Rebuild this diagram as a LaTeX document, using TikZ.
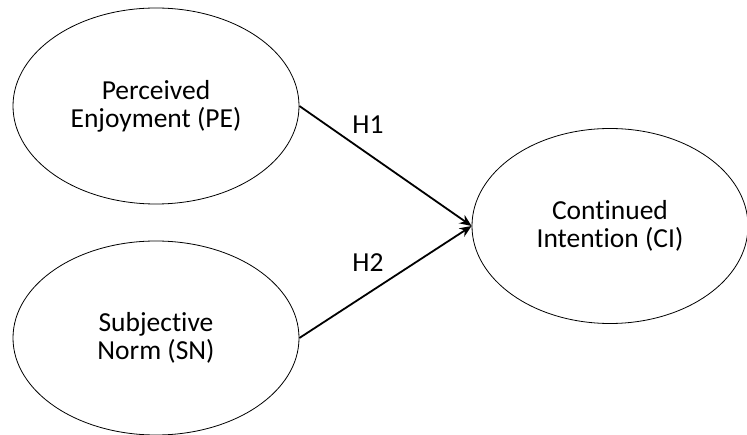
\documentclass[tikz,border=0pt]{standalone}
\usepackage{fontspec}
\setmainfont[Ligatures=NoCommon]{Carlito}
\usetikzlibrary{shapes.geometric,arrows.meta}

\begin{document}
\begin{tikzpicture}[x=1pt,y=-1pt,
	construct/.style={draw,ellipse,line width=0.8pt,inner sep=0pt,align=center,font=\fontsize{27.5}{28}\selectfont},
	path/.style={line width=1.8pt,-{Stealth[length=12pt,width=10pt]}},
	hyp/.style={font=\fontsize{27.5}{28}\selectfont}]
			\useasboundingbox (0,0) rectangle (747,435);
			\node[construct,minimum width=286pt,minimum height=196pt] (pe) at (156,106) {Perceived\\Enjoyment (PE)};
			\node[construct,minimum width=286pt,minimum height=194pt] (sn) at (156,338) {Subjective\\Norm (SN)};
			\node[construct,minimum width=276pt,minimum height=195pt] (ci) at (610,226) {Continued\\Intention (CI)};
			\draw[path] (pe.east) -- (ci.west);
			\draw[path] (sn.east) -- (ci.west);
			\node[hyp] (h1) at (368,125) {H1};
			\node[hyp] (h2) at (368,263) {H2};
		\end{tikzpicture}
\end{document}
